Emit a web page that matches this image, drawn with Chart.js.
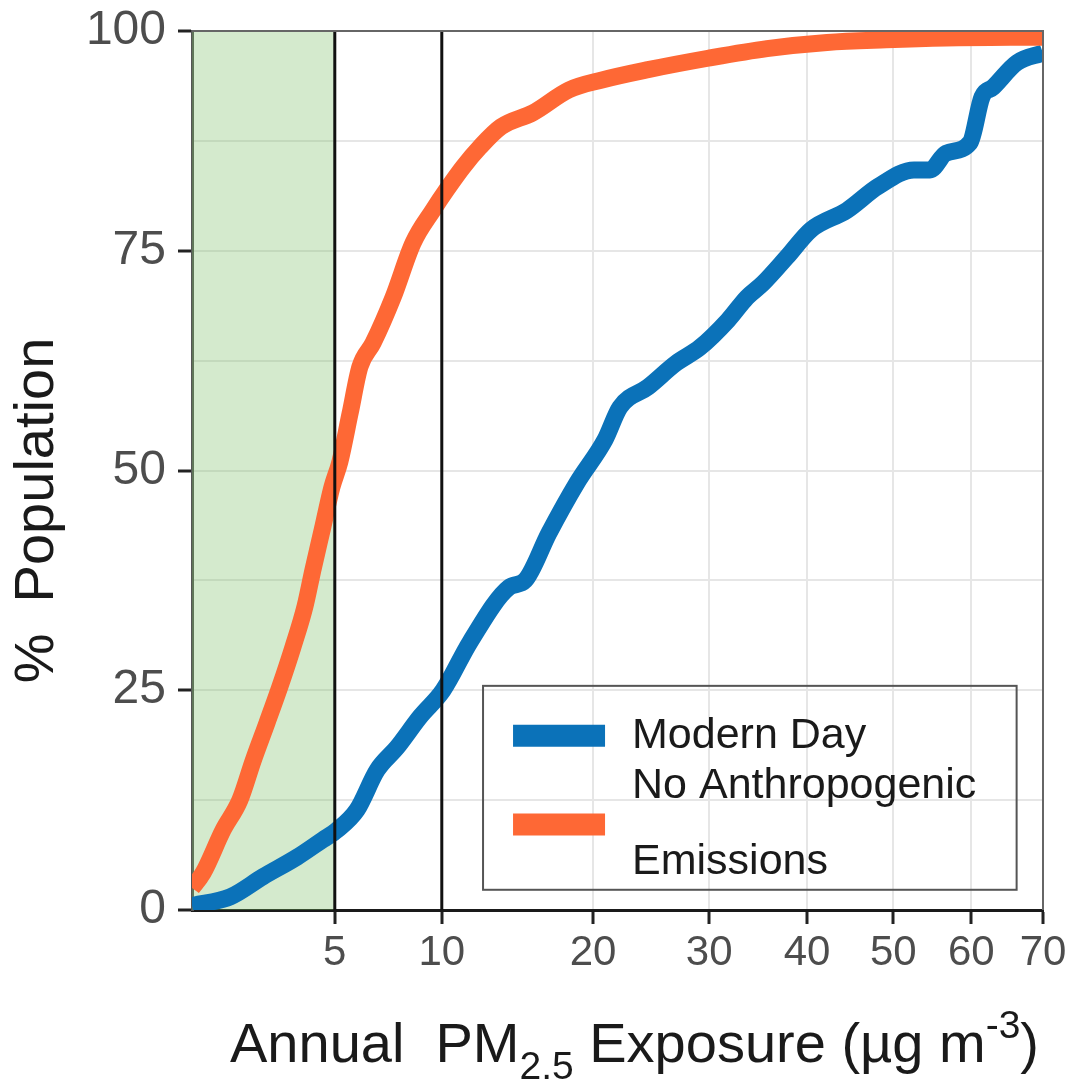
<!DOCTYPE html>
<html>
<head>
<meta charset="utf-8">
<script src="https://cdn.jsdelivr.net/npm/chart.js@4.4.0/dist/chart.umd.min.js"></script>
<style>
  html, body { margin: 0; padding: 0; background: #fff; }
  #wrap { width: 1074px; height: 1081px; position: relative; }
</style>
</head>
<body>
<div id="wrap"><canvas id="cdf"></canvas></div>
<script>
// cumulative % of population vs annual PM2.5 exposure (ug m-3)
const modernX = [1.0, 1.77, 2.61, 3.64, 4.55, 5.09, 5.9, 6.77, 7.7, 8.85, 10.07, 11.61, 14.02, 15.08, 16.73, 18.77, 20.93, 22.13, 24.48, 26.93, 29.13, 31.81, 33.69, 35.32, 37.83, 40.43, 44.49, 48.14, 52.56, 54.59, 56.66, 59.83, 61.45, 62.95, 66.29, 70];
const modernY = [0.5, 1.5, 3.8, 6.0, 8.0, 9.1, 11.4, 15.9, 18.5, 22.0, 25.0, 30.5, 36.7, 37.5, 42.9, 48.6, 53.5, 57.2, 59.5, 62.2, 64.0, 67.1, 69.7, 71.3, 74.3, 77.4, 79.6, 82.3, 84.2, 84.2, 86.1, 87.3, 92.5, 93.6, 96.4, 97.5];
const noAnthroX = [1.0, 1.2, 1.61, 2.0, 2.34, 2.72, 3.1, 3.51, 3.91, 4.19, 4.55, 4.89, 5.2, 5.61, 6.02, 6.59, 7.51, 8.49, 9.52, 10.29, 11.19, 12.2, 13.51, 15.62, 18.18, 20.62, 24.48, 29.89, 35.73, 42.21, 49.11, 56.66, 70];
const noAnthroY = [2.5, 4.2, 9.1, 12.5, 17.0, 21.3, 25.4, 29.9, 34.5, 38.7, 43.6, 48.1, 51.0, 56.5, 61.8, 64.5, 69.7, 75.9, 79.6, 82.0, 84.5, 86.8, 89.1, 90.7, 93.3, 94.4, 95.6, 96.9, 98.0, 98.7, 99.0, 99.2, 99.3];

const xTicks = [5, 10, 20, 30, 40, 50, 60, 70];
const yTicks = [0, 25, 50, 75, 100];
const yGrid = [0, 12.5, 25, 37.5, 50, 62.5, 75, 87.5, 100];
const xRange = [1, 70];
const guideLines = [5, 10];
const shadeRange = [1, 5];
const legendText = [['Modern Day'], ['No Anthropogenic', 'Emissions']];

const BLUE = '#0b72b9';
const ORANGE = '#fe6835';
const FONT = "'Liberation Sans', Arial, sans-serif";

// square-root x axis
class SqrtScale extends Chart.LinearScale {
  static id = 'sqrt';
  static defaults = Chart.LinearScale.defaults;
  configure() {
    super.configure();
    this._sMin = Math.sqrt(this.min);
    this._sRange = Math.sqrt(this.max) - this._sMin;
  }
  getPixelForValue(value) {
    return this.getPixelForDecimal((Math.sqrt(value) - this._sMin) / this._sRange);
  }
  getValueForPixel(pixel) {
    const s = this._sMin + this.getDecimalForPixel(pixel) * this._sRange;
    return s * s;
  }
}
Chart.register(SqrtScale);

const pts = (xs, ys) => xs.map((x, i) => ({ x: x, y: ys[i] }));

const vlineSets = guideLines.map(v => ({
  data: [{ x: v, y: 0 }, { x: v, y: 100 }],
  borderColor: '#111',
  borderWidth: 3,
  pointRadius: 0,
  order: 0,
}));

// axis titles with sub / superscripts, box, legend
const decorPlugin = {
  id: 'decor',
  afterDraw(chart) {
    const { ctx, chartArea: a } = chart;
    ctx.save();
    ctx.strokeStyle = '#666';
    ctx.lineWidth = 2;
    ctx.beginPath();
    ctx.moveTo(a.left, a.top);
    ctx.lineTo(a.right, a.top);
    ctx.lineTo(a.right, a.bottom);
    ctx.stroke();

    // y title
    ctx.fillStyle = '#1a1a1a';
    ctx.font = '56px ' + FONT;
    ctx.textAlign = 'center';
    ctx.textBaseline = 'middle';
    ctx.translate(38, (a.top + a.bottom) / 2 + 40);
    ctx.rotate(-Math.PI / 2);
    ctx.fillText('%  Population', 0, 0);
    ctx.restore();

    // x title
    const size = 56;
    const parts = [
      { t: 'Annual  PM', s: 1, dy: 0 },
      { t: '2.5', s: 0.7, dy: 0.3 },
      { t: ' Exposure (µg m', s: 1, dy: 0 },
      { t: '-3', s: 0.7, dy: -0.42 },
      { t: ')', s: 1, dy: 0 },
    ];
    ctx.save();
    ctx.fillStyle = '#1a1a1a';
    ctx.textBaseline = 'alphabetic';
    ctx.textAlign = 'left';
    let total = 0;
    parts.forEach(p => { ctx.font = Math.round(size * p.s) + 'px ' + FONT; p.w = ctx.measureText(p.t).width; total += p.w; });
    let x = (a.left + a.right) / 2 + 17 - total / 2;
    const base = a.bottom + 152;
    parts.forEach(p => {
      ctx.font = Math.round(size * p.s) + 'px ' + FONT;
      ctx.fillText(p.t, x, base + p.dy * size);
      x += p.w;
    });
    ctx.restore();

    // legend box
    const w = a.right - a.left, h = a.bottom - a.top;
    const bx = a.left + 0.342 * w, by = a.top + 0.745 * h;
    const bw = 0.627 * w, bh = 0.232 * h;
    ctx.save();
    ctx.strokeStyle = '#555';
    ctx.lineWidth = 2;
    ctx.strokeRect(bx, by, bw, bh);
    const colors = [BLUE, ORANGE];
    const rowsY = [by + 0.245 * bh, by + 0.68 * bh];
    ctx.font = '43px ' + FONT;
    ctx.fillStyle = '#1a1a1a';
    ctx.textBaseline = 'middle';
    legendText.forEach((lines, i) => {
      ctx.strokeStyle = colors[i];
      ctx.lineWidth = 22;
      ctx.beginPath();
      ctx.moveTo(bx + 30, rowsY[i]);
      ctx.lineTo(bx + 122, rowsY[i]);
      ctx.stroke();
      const lh = 76;
      const y0 = rowsY[i] - (lines.length - 1) * lh / 2;
      lines.forEach((ln, j) => ctx.fillText(ln, bx + 149, y0 + j * lh));
    });
    ctx.restore();
  }
};

new Chart(document.getElementById('cdf'), {
  type: 'line',
  data: {
    datasets: [
      ...vlineSets,
      {
        label: 'No Anthropogenic Emissions',
        data: pts(noAnthroX, noAnthroY),
        borderColor: ORANGE,
        borderWidth: 17,
        pointRadius: 0,
        cubicInterpolationMode: 'monotone',
        borderJoinStyle: 'round',
        clip: 0,
        order: 1,
      },
      {
        label: 'Modern Day',
        data: pts(modernX, modernY),
        borderColor: BLUE,
        borderWidth: 17,
        pointRadius: 0,
        cubicInterpolationMode: 'monotone',
        borderJoinStyle: 'round',
        clip: 0,
        order: 2,
      },
      {
        data: shadeRange.map(v => ({ x: v, y: 100 })),
        borderWidth: 0,
        pointRadius: 0,
        backgroundColor: 'rgba(120, 190, 100, 0.32)',
        fill: 'origin',
        order: 3,
      },
    ],
  },
  options: {
    responsive: true,
    maintainAspectRatio: false,
    animation: false,
    layout: { padding: { top: 31, right: 31, left: 0, bottom: 0 } },
    plugins: { legend: { display: false }, tooltip: { enabled: false } },
    scales: {
      x: {
        type: 'sqrt',
        min: xRange[0],
        max: xRange[1],
        afterBuildTicks: s => { s.ticks = xTicks.map(v => ({ value: v })); },
        afterFit: s => { s.height = 171; s.paddingLeft = 0; s.paddingRight = 0; },
        ticks: {
          autoSkip: false,
          maxRotation: 0,
          padding: 4,
          color: '#4d4d4d',
          font: { family: FONT, size: 42 },
          callback: v => String(v),
        },
        grid: { color: '#e6e6e6', lineWidth: 2, tickLength: 14, tickColor: '#222', tickWidth: 3 },
        border: { color: '#1a1a1a', width: 3 },
      },
      y: {
        min: 0,
        max: 100,
        afterBuildTicks: s => { s.ticks = yGrid.map(v => ({ value: v })); },
        afterFit: s => { s.width = 192; s.paddingTop = 0; s.paddingBottom = 0; },
        ticks: {
          autoSkip: false,
          padding: 12,
          color: '#4d4d4d',
          font: { family: FONT, size: 48 },
          callback: v => (yTicks.includes(v) ? String(v) : ''),
        },
        grid: {
          color: '#e6e6e6',
          lineWidth: 2,
          tickLength: 14,
          tickWidth: 3,
          tickColor: c => (yTicks.includes(c.tick.value) ? '#222' : 'rgba(0,0,0,0)'),
        },
        border: { color: '#555', width: 3 },
      },
    },
  },
  plugins: [decorPlugin],
});
</script>
</body>
</html>
